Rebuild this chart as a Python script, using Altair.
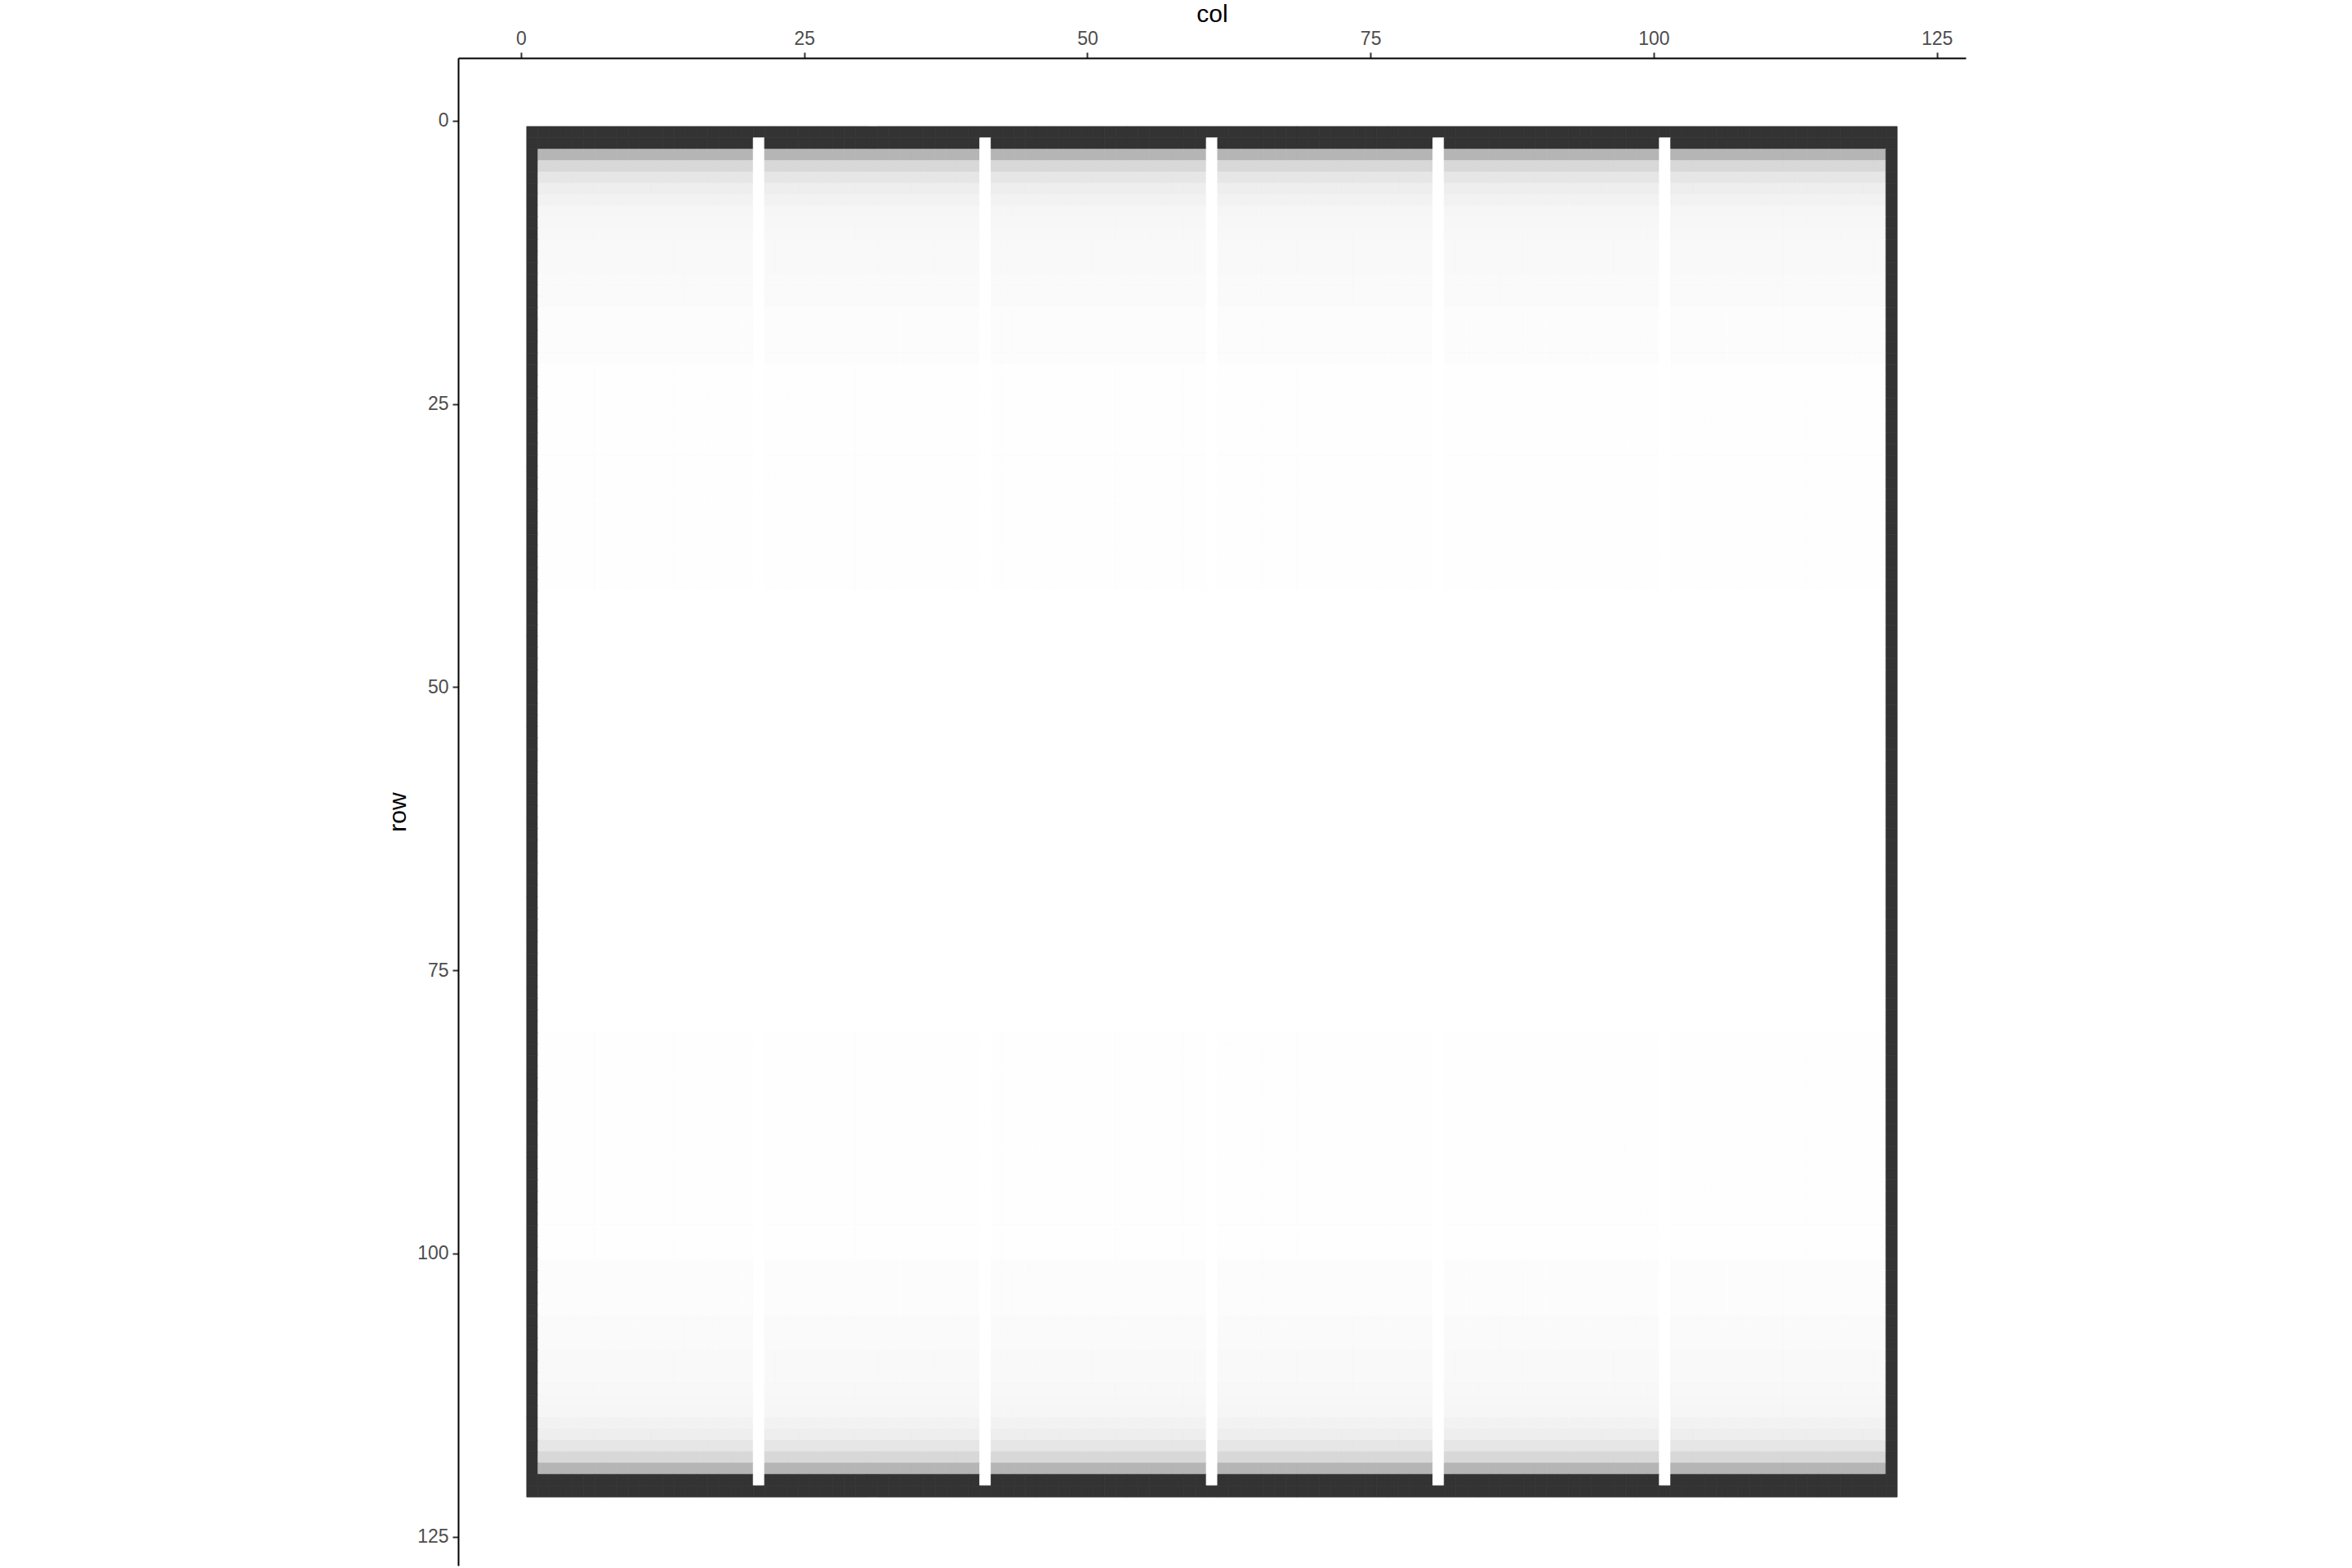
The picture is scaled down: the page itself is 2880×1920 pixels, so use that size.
import altair as alt
import pandas as pd

alt.data_transformers.disable_max_rows()

# grid size (rows and columns 1..121)
COLS = list(range(1, 122))
ROWS = list(range(1, 122))

# grey level (0-255) of each row away from the bright columns
ROW_GRAY = (
    [51, 51, 181, 216, 230, 238, 242, 246, 247, 248]
    + [249, 249, 249, 250, 250, 250, 252, 252, 252, 252, 252]
    + [254] * 20
    + [255] * 39
    + [254] * 20
    + [252, 252, 252, 252, 252, 250, 250, 250, 249, 249, 249]
    + [248, 247, 246, 242, 238, 230, 216, 181, 51, 51]
)
WHITE_COLS = [21, 41, 61, 81, 101]
EDGE_COLS = [1, 121]
EDGE_ROWS = [1, 121]
DARK = 51
WHITE = 255

records = []
for r in ROWS:
    for c in COLS:
        if r in EDGE_ROWS or c in EDGE_COLS:
            g = DARK
        elif c in WHITE_COLS:
            g = WHITE
        else:
            g = ROW_GRAY[r - 1]
        records.append({"col": c, "row": r, "gray": g})
df = pd.DataFrame(records)

DOM = [-5.55, 127.55]
TICKS = [0, 25, 50, 75, 100, 125]
FONT = "Liberation Sans"

color_scale = alt.Scale(domain=[51, 255], range=["#333333", "#ffffff"], interpolate="rgb")

chart = (
    alt.Chart(df)
    .transform_calculate(
        x0="datum.col - 0.5", x1="datum.col + 0.5",
        y0="datum.row - 0.5", y1="datum.row + 0.5",
    )
    .mark_rect(strokeWidth=0.8)
    .encode(
        x=alt.X("x0:Q", title="col",
                scale=alt.Scale(domain=DOM, nice=False, zero=False),
                axis=alt.Axis(orient="top", values=TICKS, titlePadding=4)),
        x2="x1:Q",
        y=alt.Y("y0:Q", title="row",
                scale=alt.Scale(domain=DOM, nice=False, zero=False, reverse=True),
                axis=alt.Axis(values=TICKS, titlePadding=8)),
        y2="y1:Q",
        fill=alt.Fill("gray:Q", scale=color_scale, legend=None),
        stroke=alt.Stroke("gray:Q", scale=color_scale, legend=None),
    )
    .properties(
        width=1846, height=1846,
        autosize=alt.AutoSizeParams(type="none"),
        padding={"left": 561, "top": 71, "right": 473, "bottom": 3},
        background="white",
    )
    .configure_view(strokeWidth=0)
    .configure_axis(
        grid=False,
        domainColor="black", domainWidth=2,
        tickColor="#333333", tickWidth=2, tickSize=7,
        labelColor="#4D4D4D", labelFont=FONT, labelFontSize=23, labelPadding=5,
        titleColor="black", titleFont=FONT, titleFontSize=30, titleFontWeight="normal",
    )
)

chart.save("out.html", embed_options={"renderer": "svg", "actions": False})
